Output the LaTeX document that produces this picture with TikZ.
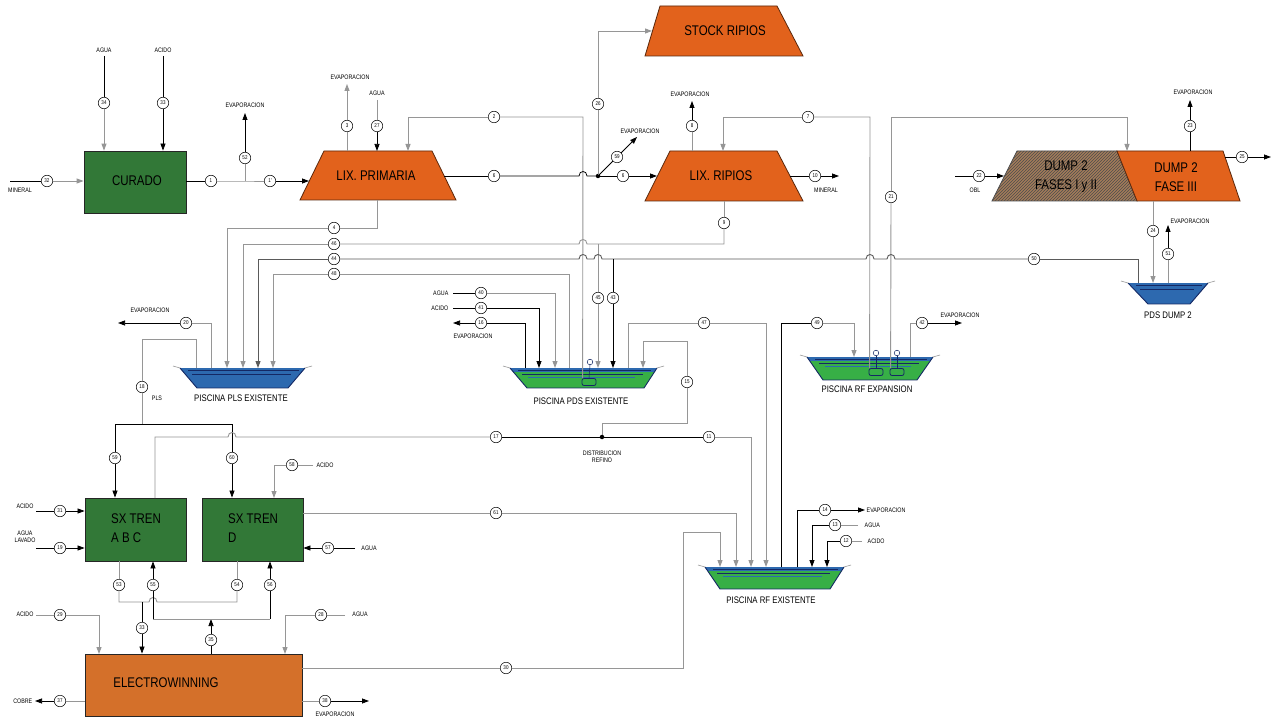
\documentclass[tikz,border=0pt]{standalone}
\usepackage{fontspec}
\setmainfont{Liberation Sans}
\newfontfamily\nar[FakeStretch=0.82]{Liberation Sans}
\usetikzlibrary{arrows.meta,patterns,calc}
\definecolor{boxgreen}{RGB}{50,120,55}
\definecolor{lixor}{RGB}{226,98,28}
\definecolor{ewor}{RGB}{212,112,42}
\definecolor{lgray}{RGB}{150,150,150}
\definecolor{dgray}{RGB}{90,90,90}
\definecolor{poolblue}{RGB}{45,105,175}
\definecolor{poolgreen}{RGB}{55,175,70}
\definecolor{navy}{RGB}{20,40,100}
\definecolor{dumpbrown}{RGB}{165,125,90}
\tikzset{
 gl/.style={draw=lgray, line width=0.9pt},
 bl/.style={draw=black, line width=0.75pt},
 dl/.style={draw=dgray, line width=0.9pt},
 ar/.style={-{Triangle[length=7pt,width=5pt]}},
 snum/.style={circle, draw=black, fill=white, line width=0.5pt, inner sep=0pt, minimum size=11.5pt, font=\nar\fontsize{5.5}{5.5}\selectfont},
 lab/.style={font=\nar\fontsize{6.5}{7}\selectfont, inner sep=0.5pt, align=center},
 ttl/.style={font=\nar\fontsize{14}{19}\selectfont, align=center, inner sep=0pt},
 plab/.style={font=\nar\fontsize{9.5}{10}\selectfont, inner sep=0pt},
 gbox/.style={draw=black!85, fill=boxgreen, line width=0.8pt},
 ewbox/.style={draw=black!85, fill=ewor, line width=0.8pt},
 trap/.style={draw=black!60!lixor, fill=lixor, line width=0.8pt},
 jdot/.style={circle, fill=black, inner sep=0pt, minimum size=4.5pt},
 pumpbox/.style={draw=navy, line width=0.8pt, rounded corners=2pt, minimum width=14pt, minimum height=7pt, inner sep=0pt},
}
\newcommand\mypool[8]{%
 \begin{scope}
  \clip (#1,#5) -- (#2,#5) -- (#4,#6) -- (#3,#6) -- cycle;
  \fill[#7] (#1,#5) rectangle (#2,#6);
  \fill[#8] (#1,#5) rectangle (#2,{#5+3.5});
  \draw[navy, line width=0.8pt] ({#1+8},{#5+2}) -- ({#2-6},{#5+2});
  \draw[navy, line width=0.8pt] ({#1+12},{#5+6}) -- ({#2-14},{#5+6});
  \draw[#8, line width=0.7pt] ({#1+18},{#5+9.5}) -- ({#2-22},{#5+9.5});
 \end{scope}
 \draw[navy, line width=0.9pt, line join=round] (#1,#5) -- (#3,#6) -- (#4,#6) -- (#2,#5);
 \draw[lgray, line width=0.6pt] (#1,#5) -- ({#1-7},{#5-2});
 \draw[lgray, line width=0.6pt] (#2,#5) -- ({#2+7},{#5-2});
}
\begin{document}
\begin{tikzpicture}[x=1pt,y=-1pt]
\useasboundingbox (0,0) rectangle (1273,719);
\fill[white] (0,0) rectangle (1273,719);

% ---------- units ----------
\node[gbox, minimum width=102pt, minimum height=62pt] (cur) at (135,182) {};
\node[ttl] (curT) at (137,181) {CURADO};

\draw[trap] (324,151) -- (432,151) -- (456,200) -- (300,200) -- cycle;
\node[ttl] (lp) at (376,176) {LIX. PRIMARIA};

\draw[trap] (660,6) -- (777,6) -- (803,56) -- (645,56) -- cycle;
\node[ttl] (st) at (725,31) {STOCK RIPIOS};

\draw[trap] (670,151) -- (777,151) -- (803,201) -- (645,201) -- cycle;
\node[ttl] (lr) at (721,176) {LIX. RIPIOS};

\draw[line width=0.8pt, draw=black!70, preaction={fill=dumpbrown}, pattern=north east lines, pattern color=black!70] (1017,151) -- (1117,151) -- (1137,201) -- (992,201) -- cycle;
\draw[trap] (1117,151) -- (1223,151) -- (1240,201) -- (1137,201) -- cycle;
\node[ttl] (d12) at (1066,177) {DUMP 2\\FASES I y II};
\node[ttl] (d3) at (1176,177) {DUMP 2\\FASE III};

\node[gbox, minimum width=101pt, minimum height=63pt] (sxa) at (135.5,529.5) {};
\node[ttl, align=left, anchor=west] (sxaT) at (111,528) {SX TREN\\A B C};
\node[gbox, minimum width=101pt, minimum height=63pt] (sxd) at (252.5,529.5) {};
\node[ttl, align=left, anchor=west] (sxdT) at (228,528) {SX TREN\\D};
\node[ewbox, minimum width=217pt, minimum height=62pt] (ew) at (193.5,685) {};
\node[ttl] (ewT) at (166,683) {ELECTROWINNING};

% ---------- pools ----------
\mypool{180}{305}{197}{288}{368}{388}{poolblue}{poolblue}
\node[plab] (plsL) at (241,398) {PISCINA PLS EXISTENTE};
\mypool{510}{657}{527}{644}{368}{388}{poolgreen}{poolblue}
\node[plab] (pdsL) at (581,401) {PISCINA PDS EXISTENTE};
\mypool{807}{933}{823}{917}{357}{380}{poolgreen}{poolblue}
\node[plab] (rfeL) at (867,389) {PISCINA RF EXPANSION};
\mypool{705}{844}{720}{830}{567}{589}{poolgreen}{poolblue}
\node[plab] (rfxL) at (771,600) {PISCINA RF EXISTENTE};
\mypool{1128}{1208}{1148}{1190}{283}{304}{poolblue}{poolblue}
\node[plab] (d2L) at (1168,315) {PDS DUMP 2};

% pumps
\node[pumpbox] (pP) at (589,382) {};
\draw[navy, line width=0.5pt] (590,365) -- (pP.north);
\draw[navy, line width=0.5pt] (590,362) circle (2.8pt);
\node[pumpbox] (pE1) at (876,372) {};
\draw[navy, line width=0.5pt] (876,356) -- (pE1.north);
\draw[navy, line width=0.5pt] (876,353) circle (2.8pt);
\node[pumpbox] (pE2) at (897,372) {};
\draw[navy, line width=0.5pt] (897,356) -- (pE2.north);
\draw[navy, line width=0.5pt] (897,353) circle (2.8pt);

% ---------- stream circles ----------
\node[snum] (n32) at (47,181) {32};
\node[snum] (n34) at (104,103) {34};
\node[snum] (n33) at (163,103) {33};
\node[snum] (n1) at (211,181) {1};
\node[snum] (n52) at (245,158) {52};
\node[snum] (n1b) at (270,181) {1'};
\node[snum] (n3) at (347,126) {3};
\node[snum] (n27) at (377,126) {27};
\node[snum] (n2) at (494,117) {2};
\node[snum] (n6) at (494,176) {6};
\node[snum] (n26) at (598,104) {26};
\node[snum] (n59) at (617,157) {59};
\node[snum] (n6b) at (623,176) {6};
\node[snum] (n8) at (692,126) {8};
\node[snum] (n7) at (808,117) {7};
\node[snum] (n10) at (815,176) {10};
\node[snum] (n9) at (724,223) {9};
\node[snum] (n21) at (891,197) {21};
\node[snum] (n22) at (979,176) {22};
\node[snum] (n23) at (1190,126) {23};
\node[snum] (n25) at (1242,157) {25};
\node[snum] (n24) at (1153,231) {24};
\node[snum] (n51) at (1168,254) {51};
\node[snum] (n50) at (1034,259) {50};
\node[snum] (n4) at (334,228) {4};
\node[snum] (n46) at (334,244) {46};
\node[snum] (n44) at (334,259) {44};
\node[snum] (n48) at (334,274) {48};
\node[snum] (n20) at (186,323) {20};
\node[snum] (n18) at (142,387) {18};
\node[snum] (n40) at (481,293) {40};
\node[snum] (n41) at (481,308) {41};
\node[snum] (n16) at (481,323) {16};
\node[snum] (n45) at (598,298) {45};
\node[snum] (n43) at (613,298) {43};
\node[snum] (n47) at (704,323) {47};
\node[snum] (n15) at (687,382) {15};
\node[snum] (n49) at (817,323) {49};
\node[snum] (n42) at (922,323) {42};
\node[snum] (n17) at (496,437) {17};
\node[snum] (n11) at (709,437) {11};
\node[snum] (n59b) at (115,458) {59};
\node[snum] (n60) at (232,458) {60};
\node[snum] (n58) at (292,465) {58};
\node[snum] (n31) at (60,511) {31};
\node[snum] (n19) at (60,548) {19};
\node[snum] (n57) at (328,548) {57};
\node[snum] (n61) at (496,513) {61};
\node[snum] (n53) at (119,585) {53};
\node[snum] (n55) at (153,585) {55};
\node[snum] (n54) at (237,585) {54};
\node[snum] (n56) at (270,585) {56};
\node[snum] (n33b) at (142,628) {33};
\node[snum] (n35) at (211,640) {35};
\node[snum] (n29) at (60,615) {29};
\node[snum] (n28) at (321,615) {28};
\node[snum] (n37) at (60,701) {37};
\node[snum] (n38) at (325,701) {38};
\node[snum] (n30) at (506,668) {30};
\node[snum] (n14) at (825,510) {14};
\node[snum] (n13) at (835,525) {13};
\node[snum] (n12) at (846,541) {12};

% ---------- labels ----------
\node[lab] (tM32) at (20,190) {MINERAL};
\node[lab] (tA34) at (104,50) {AGUA};
\node[lab] (tC33) at (163,50) {ACIDO};
\node[lab] (tE52) at (245,105) {EVAPORACION};
\node[lab] (tE3) at (350,77) {EVAPORACION};
\node[lab] (tA27) at (377,93) {AGUA};
\node[lab] (tE59) at (640,131) {EVAPORACION};
\node[lab] (tE8) at (690,94) {EVAPORACION};
\node[lab] (tM10) at (826,190) {MINERAL};
\node[lab] (tO22) at (975,190) {OBL};
\node[lab] (tE23) at (1193,92) {EVAPORACION};
\node[lab] (tE51) at (1190,221) {EVAPORACION};
\node[lab] (tE20) at (150,310) {EVAPORACION};
\node[lab] (tP18) at (157,398) {PLS};
\node[lab, anchor=east] (tA40) at (449,293) {AGUA};
\node[lab, anchor=east] (tC41) at (449,308) {ACIDO};
\node[lab] (tE16) at (473,336) {EVAPORACION};
\node[lab] (tE42) at (960,315) {EVAPORACION};
\node[lab] (tDR) at (602,457) {DISTRIBUCION\\REFINO};
\node[lab] (tC31) at (25,506) {ACIDO};
\node[lab] (tA19) at (25,537) {AGUA\\LAVADO};
\node[lab] (tC58) at (325,465) {ACIDO};
\node[lab] (tA57) at (369,548) {AGUA};
\node[lab] (tC29) at (25,614) {ACIDO};
\node[lab] (tA28) at (360,614) {AGUA};
\node[lab, anchor=east] (tCu) at (33,701) {COBRE};
\node[lab] (tE38) at (335,714) {EVAPORACION};
\node[lab, anchor=west] (tE14) at (866,510) {EVAPORACION};
\node[lab, anchor=west] (tA13) at (864,525) {AGUA};
\node[lab, anchor=west] (tC12) at (867,541) {ACIDO};

% ---------- junctions ----------
\coordinate (jA) at (245,181);
\coordinate (j6) at (598,176);
\coordinate (j9) at (598,244);
\coordinate (j44) at (613,259);
\coordinate (dist) at (602,437);
\coordinate (jpls) at (142,424);
\coordinate (j33) at (142,602);
\coordinate (j35) at (211,619);

% ---------- curado ----------
\draw[bl] (10,181) -- (n32);
\draw[gl,ar] (n32) -- (n32 -| cur.west);
\draw[bl, shorten <=3pt] (tA34.south) -- (n34);
\draw[gl,ar] (n34) -- (n34 |- cur.north);
\draw[bl, shorten <=3pt] (tC33.south) -- (n33);
\draw[bl,ar] (n33) -- (n33 |- cur.north);
\draw[bl] (n1 -| cur.east) -- (n1);
\draw[gl] (n1) -- (jA) -- (n1b);
\draw[bl,ar] (n1b) -- (309,181);
\draw[gl] (jA) -- (n52);
\draw[bl,ar] (n52) -- (245,113);

% ---------- lix primaria ----------
\draw[gl] (347,151) -- (n3);
\draw[gl,ar] (n3) -- (347,84);
\draw[gl, shorten <=4pt] (tA27.south) -- (n27);
\draw[bl,ar] (n27) -- (377,151);
\draw[gl] (pP.north west) ++(1,0) -- (583,117) -- (n2);
\draw[gl,ar] (n2) -- (408,117) -- (408,151);
\draw[bl] (444,176) -- (n6);
\draw[bl] (n6) -- (579,176) .. controls (579,170) and (587,170) .. (587,176) -- (j6);
\node[jdot] (j6d) at (j6) {};
\draw[gl] (j6) -- (n26);
\draw[gl,ar] (n26) -- (598,31) -- (652,31);
\draw[bl] (j6) -- (n59);
\draw[bl,ar] (n59) -- (637,137);
\draw[bl] (j6) -- (n6b);
\draw[bl,ar] (n6b) -- (657,176);
\draw[gl] (377,200) -- (377,228) -- (n4);
\draw[gl,ar] (n4) -- (227,228) -- (227,368);

% ---------- lix ripios ----------
\draw[gl] (692,151) -- (n8);
\draw[bl,ar] (n8) -- (692,101);
\draw[gl] (pE1.north west) ++(1,0) -- (870,117) -- (n7);
\draw[gl,ar] (n7) -- (723,117) -- (723,151);
\draw[bl] (790,176) -- (n10);
\draw[bl,ar] (n10) -- (839,176);
\draw[gl] (724,201) -- (n9);
\draw[gl] (n9) -- (724,244) -- (j9) -- (587,244) .. controls (587,238) and (579,238) .. (579,244) -- (n46);
\draw[gl,ar] (n46) -- (243,244) -- (243,368);
\draw[gl] (j9) -- (n45);
\draw[gl,ar] (n45) -- (598,368);

% ---------- dump 2 ----------
\draw[gl] (pE2.north west) ++(1,0) -- (n21);
\draw[gl,ar] (n21) -- (891,117) -- (1127,117) -- (1127,151);
\draw[bl] (955,176) -- (n22);
\draw[bl,ar] (n22) -- (1004,176);
\draw[bl] (1190,151) -- (n23);
\draw[bl,ar] (n23) -- (1190,100);
\draw[bl] (1225,157) -- (n25);
\draw[bl,ar] (n25) -- (1271,157);
\draw[gl] (1153,201) -- (n24);
\draw[gl,ar] (n24) -- (1153,283);
\draw[gl] (1168,283) -- (n51);
\draw[bl,ar] (n51) -- (1168,225);
\draw[dl] (1138,283) -- (1138,259) -- (n50);
\draw[dl] (n50) -- (895,259) .. controls (895,253) and (887,253) .. (887,259) -- (874,259) .. controls (874,253) and (866,253) .. (866,259) -- (j44) -- (602,259) .. controls (602,253) and (594,253) .. (594,259) -- (587,259) .. controls (587,253) and (579,253) .. (579,259) -- (n44);
\draw[dl,ar] (n44) -- (258,259) -- (258,368);
\draw[bl] (j44) -- (n43);
\draw[bl,ar] (n43) -- (613,368);

% ---------- piscina PLS ----------
\draw[gl] (569,368) -- (569,274) -- (n48);
\draw[gl,ar] (n48) -- (273,274) -- (273,368);
\draw[gl] (211,368) -- (211,323) -- (n20);
\draw[bl,ar] (n20) -- (118,323);
\draw[gl] (196,368) -- (196,339) -- (142,339) -- (n18);
\draw[gl] (n18) -- (jpls);
\draw[bl] (115,424) -- (232,424);
\draw[bl] (115,424) -- (n59b);
\draw[bl,ar] (n59b) -- (n59b |- sxa.north);
\draw[bl] (232,424) -- (n60);
\draw[bl,ar] (n60) -- (n60 |- sxd.north);

% ---------- piscina PDS ----------
\draw[bl, shorten <=4pt] (tA40.east) -- (n40);
\draw[gl,ar] (n40) -- (555,293) -- (555,368);
\draw[bl, shorten <=4pt] (tC41.east) -- (n41);
\draw[bl,ar] (n41) -- (539,308) -- (539,368);
\draw[bl] (525,368) -- (525,323) -- (n16);
\draw[bl,ar] (n16) -- (453,323);
\draw[gl] (628,368) -- (628,323) -- (n47);
\draw[gl,ar] (n47) -- (766,323) -- (766,567);
\draw[gl] (dist) -- (602,423) -- (687,423) -- (n15);
\draw[gl,ar] (n15) -- (687,341) -- (643,341) -- (643,368);

% ---------- refino ----------
\draw[gl] (155,498) -- (155,437) -- (228,437) .. controls (228,431) and (236,431) .. (236,437) -- (n17);
\draw[bl] (n17) -- (dist);
\node[jdot] (distd) at (dist) {};
\draw[bl] (dist) -- (n11);
\draw[gl,ar] (n11) -- (751,437) -- (751,567);
\draw[bl] (781,567) -- (781,323) -- (n49);
\draw[gl,ar] (n49) -- (854,323) -- (854,357);
\draw[gl] (910,357) -- (910,323) -- (n42);
\draw[bl,ar] (n42) -- (962,323);

% ---------- SX ----------
\draw[bl] (36,511) -- (n31);
\draw[bl,ar] (n31) -- (n31 -| sxa.west);
\draw[bl] (36,548) -- (n19);
\draw[bl,ar] (n19) -- (n19 -| sxa.west);
\draw[gl] (313,465) -- (n58);
\draw[gl,ar] (n58) -- (274,465) -- (274,498);
\draw[bl] (355,548) -- (n57);
\draw[bl,ar] (n57) -- (n57 -| sxd.east);
\draw[gl] (n61 -| sxd.east) -- (n61);
\draw[gl,ar] (n61) -- (736,513) -- (736,567);
\draw[gl] (n53 |- sxa.south) -- (n53);
\draw[gl] (n53) -- (119,602) -- (149,602) .. controls (149,596) and (157,596) .. (157,602) -- (237,602) -- (n54);
\draw[gl] (n54) -- (n54 |- sxd.south);
\draw[bl] (j33) -- (n33b);
\draw[bl,ar] (n33b) -- (n33b |- ew.north);
\draw[bl] (n35 |- ew.north) -- (n35);
\draw[bl,ar] (n35) -- (j35);
\draw[gl] (153,619) -- (270,619);
\draw[bl] (153,619) -- (n55);
\draw[bl,ar] (n55) -- (n55 |- sxa.south);
\draw[bl] (270,619) -- (n56);
\draw[bl,ar] (n56) -- (n56 |- sxd.south);

% ---------- electrowinning ----------
\draw[gl] (36,615) -- (n29);
\draw[gl,ar] (n29) -- (99,615) -- (99,654);
\draw[gl] (345,615) -- (n28);
\draw[gl,ar] (n28) -- (285,615) -- (285,654);
\draw[gl] (n37 -| ew.west) -- (n37);
\draw[bl,ar] (n37) -- (35,701);
\draw[gl] (n38 -| ew.east) -- (n38);
\draw[bl,ar] (n38) -- (369,701);
\draw[gl] (n30 -| ew.east) -- (n30);
\draw[gl,ar] (n30) -- (683,668) -- (683,532) -- (720,532) -- (720,567);

% ---------- piscina RF existente ----------
\draw[bl] (797,567) -- (797,510) -- (n14);
\draw[bl,ar] (n14) -- (865,510);
\draw[gl] (858,525) -- (n13);
\draw[bl,ar] (n13) -- (812,525) -- (812,567);
\draw[gl] (862,541) -- (n12);
\draw[bl,ar] (n12) -- (827,541) -- (827,567);
\end{tikzpicture}
\end{document}
